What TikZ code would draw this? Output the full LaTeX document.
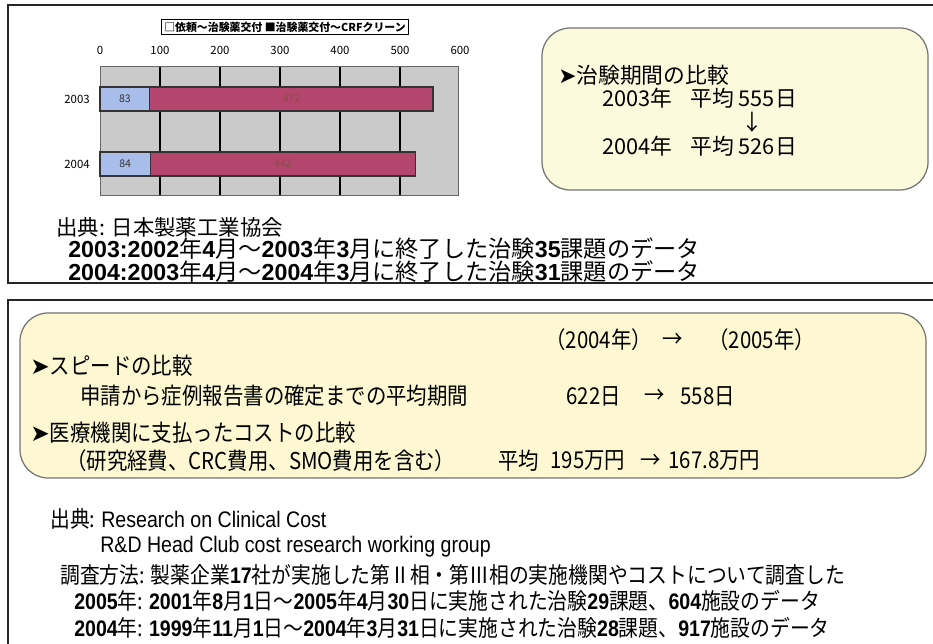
\documentclass[tikz,border=0pt]{standalone}
\usepackage{fontspec}
\setmainfont{Noto Sans CJK JP}
\newfontfamily\narrowfont[FakeStretch=0.88]{Noto Sans CJK JP}
\newfontfamily\dingfont{DejaVu Sans}
\newfontfamily\arialfont{Liberation Sans}
\newfontfamily\arialnarrow[FakeStretch=0.87]{Liberation Sans}
\newcommand{\bnum}[1]{{\arialfont\bfseries #1}}
\newcommand{\nnum}[1]{{\arialnarrow\bfseries #1}}
\definecolor{plotgray}{HTML}{CACACA}
\definecolor{barblue}{HTML}{A9BDEA}
\definecolor{barred}{HTML}{B4466D}
\definecolor{memo}{HTML}{FCFADD}
\definecolor{memoB}{HTML}{FDF8D2}
\tikzset{
  frame/.style={draw=black!85, line width=1.1pt},
  memobox/.style={draw=black!55, line width=0.7pt, rounded corners=16pt},
  legendbox/.style={draw, line width=0.6pt, inner sep=1.5pt, font=\fontsize{6.2}{7}\selectfont\bfseries},
  ticklbl/.style={inner sep=0pt, font=\fontsize{6.5}{7}\selectfont},
  barval/.style={inner sep=0pt, font=\fontsize{6}{7}\selectfont},
  bar/.style={draw=black!80, line width=0.7pt},
  boxtxt/.style={anchor=west, inner sep=0pt, font=\fontsize{12.4}{14}\selectfont},
  srctxt/.style={anchor=west, inner sep=0pt, font=\fontsize{13.2}{15}\selectfont},
  cmptxt/.style={anchor=west, inner sep=0pt, font=\fontsize{13.2}{15}\narrowfont},
  reftxt/.style={anchor=west, inner sep=0pt, font=\fontsize{12.8}{15}\narrowfont}
}
\begin{document}
\begin{tikzpicture}[x=0.02cm,y=-0.02cm]
\useasboundingbox (0,0) rectangle (933,644);
% upper panel
\draw[frame] (933,5) -- (8,5) -- (8,283) -- (933,283);
\node[legendbox] (legend) at (285,27) {□依頼〜治験薬交付\ ■治験薬交付〜CRFクリーン};
\fill[plotgray] (100,66) rectangle (458,195);
\foreach \v in {100,200,...,500}
  \draw[line width=0.8pt] ({100+0.6*\v},66) -- ({100+0.6*\v},195);
\draw[black!60] (100,66) rectangle (458,195);
\foreach \v in {0,100,...,600}
  \node[ticklbl] (tick\v) at ({100+0.6*\v},50) {\v};
\foreach \yr/\yc/\a/\b in {2003/99/83/472,2004/164/84/442}{
  \node[ticklbl] (cat\yr) at (77,\yc) {\yr};
  \draw[bar,fill=barblue] (100,\yc-12) rectangle ({100+0.6*\a},\yc+12);
  \draw[bar,fill=barred] ({100+0.6*\a},\yc-12) rectangle ({100+0.6*(\a+\b)},\yc+12);
  \node[barval,text=black!80] (lo\yr) at ({100+0.3*\a},\yc) {\a};
  \node[barval,text=red!35!black!70] (hi\yr) at ({100+0.6*\a+0.3*\b},\yc) {\b};
}
\draw[memobox,fill=memo] (542,28) rectangle (928,190);
\node[boxtxt] (cmp) at (558,75) {{\dingfont ➤}治験期間の比較};
\node[boxtxt] (y03) at (602,98) {2003年};
\node[boxtxt] (avg03) at (690,98) {平均 555日};
\node[boxtxt,anchor=center] (down) at (752,122) {↓};
\node[boxtxt] (y04) at (602,146) {2004年};
\node[boxtxt] (avg04) at (690,146) {平均 526日};
\node[srctxt,font=\fontsize{12.2}{15}\selectfont] (src) at (56,227) {出典: 日本製薬工業協会};
\node[srctxt] (src03) at (68,249) {\bnum{2003:2002}年\bnum{4}月〜\bnum{2003}年\bnum{3}月に終了した治験\bnum{35}課題のデータ};
\node[srctxt] (src04) at (68,272) {\bnum{2004:2003}年\bnum{4}月〜\bnum{2004}年\bnum{3}月に終了した治験\bnum{31}課題のデータ};
% lower panel
\draw[frame] (933,300) -- (8,300) -- (8,644);
\draw[memobox,fill=memoB] (20,313) rectangle (926,478);
\node[cmptxt] (yA) at (545,340) {（2004年）};
\node[cmptxt] (toA) at (662,340) {→};
\node[cmptxt] (yB) at (708,340) {（2005年）};
\node[cmptxt] (speed) at (30,366) {{\dingfont ➤}スピードの比較};
\node[cmptxt] (span) at (80,396) {申請から症例報告書の確定までの平均期間};
\node[cmptxt] (d04) at (566,396) {622日};
\node[cmptxt] (toB) at (644,396) {→};
\node[cmptxt] (d05) at (680,396) {558日};
\node[cmptxt] (cost) at (30,433) {{\dingfont ➤}医療機関に支払ったコストの比較};
\node[cmptxt] (incl) at (66,461) {（研究経費、CRC費用、SMO費用を含む）};
\node[cmptxt] (avg) at (498,461) {平均};
\node[cmptxt] (c04) at (550,461) {195万円};
\node[cmptxt] (toC) at (640,461) {→};
\node[cmptxt] (c05) at (668,461) {167.8万円};
\node[reftxt] (ref) at (50,519) {出典: {\arialnarrow Research on Clinical Cost}};
\node[reftxt] (grp) at (100,547) {\arialnarrow R\&D Head Club cost research working group};
\node[reftxt] (meth) at (60,575) {調査方法: 製薬企業\nnum{17}社が実施した第Ⅱ相・第Ⅲ相の実施機関やコストについて調査した};
\node[reftxt] (r05) at (74,601) {\nnum{2005}年: \nnum{2001}年\nnum{8}月\nnum{1}日〜\nnum{2005}年\nnum{4}月\nnum{30}日に実施された治験\nnum{29}課題、\nnum{604}施設のデータ};
\node[reftxt] (r04) at (74,628) {\nnum{2004}年: \nnum{1999}年\nnum{11}月\nnum{1}日〜\nnum{2004}年\nnum{3}月\nnum{31}日に実施された治験\nnum{28}課題、\nnum{917}施設のデータ};
\end{tikzpicture}
\end{document}
